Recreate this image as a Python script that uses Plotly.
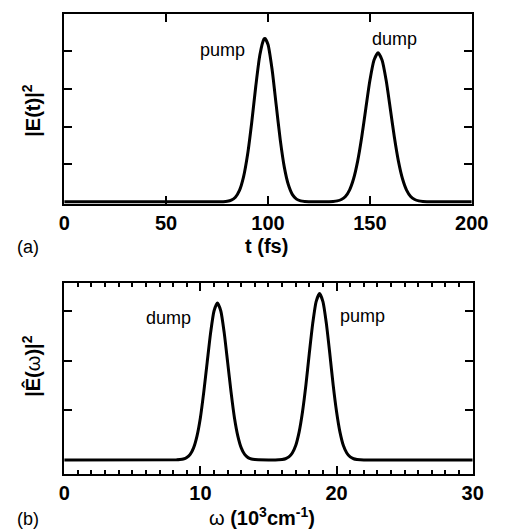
import plotly.graph_objects as go

# ---- panel (a): |E(t)|^2 versus t (fs) ----
t_fs = [0, 70, 76, 78, 80, 82, 84, 86, 88, 90, 92, 94, 96, 98, 98.5, 100, 102, 104,
        106, 108, 110, 112, 114, 116, 118, 120, 126,
        130, 132, 134, 136, 138, 140, 142, 144, 146, 148, 150, 152, 154, 156, 158,
        160, 162, 164, 166, 168, 170, 172, 174, 176, 178, 184, 200]
E_t = [0, 0, 0.001, 0.003, 0.012, 0.041, 0.118, 0.30, 0.66, 1.26, 2.10, 3.07, 3.90,
       4.32, 4.34, 4.18, 3.52, 2.58, 1.65, 0.92, 0.45, 0.19, 0.07, 0.023, 0.006,
       0.001, 0,
       0.002, 0.007, 0.022, 0.059, 0.14, 0.31, 0.61, 1.08, 1.72, 2.48, 3.22, 3.76,
       3.96, 3.76, 3.22, 2.48, 1.72, 1.08, 0.61, 0.31, 0.14, 0.059, 0.022, 0.007,
       0.002, 0, 0]
t_ticks = [0, 50, 100, 150, 200]

# ---- panel (b): |E(omega)|^2 versus omega (10^3 cm^-1) ----
w = [0, 8.25, 8.5, 8.75, 9.0, 9.25, 9.5, 9.75, 10.0, 10.25, 10.5, 10.75, 11.0, 11.25,
     11.5, 11.75, 12.0, 12.25, 12.5, 12.75, 13.0, 13.25, 13.5, 13.75, 14.0, 14.25,
     15.5, 15.75, 16.0, 16.25, 16.5, 16.75, 17.0, 17.25, 17.5, 17.75, 18.0, 18.25,
     18.5, 18.75, 19.0, 19.25, 19.5, 19.75, 20.0, 20.25, 20.5, 20.75, 21.0, 21.25,
     21.5, 21.75, 22.0, 30]
E_w = [0, 0.002, 0.006, 0.017, 0.046, 0.111, 0.243, 0.48, 0.85, 1.37, 1.97, 2.56,
       3.00, 3.16, 3.00, 2.56, 1.97, 1.37, 0.85, 0.48, 0.243, 0.111, 0.046, 0.017,
       0.006, 0.002,
       0, 0.003, 0.008, 0.023, 0.060, 0.14, 0.29, 0.56, 0.97, 1.51, 2.15, 2.75,
       3.19, 3.35, 3.19, 2.75, 2.15, 1.51, 0.97, 0.56, 0.29, 0.14, 0.060, 0.023,
       0.008, 0.003, 0, 0]
w_ticks = [0, 10, 20, 30]

W, H = 505, 531
def px(x):
    return x / W
def py(y):
    return 1 - y / H

fig = go.Figure()
fig.add_trace(go.Scatter(x=t_fs, y=E_t, mode="lines", xaxis="x", yaxis="y",
                         line=dict(color="black", width=3, shape="spline", smoothing=0.6),
                         showlegend=False, hoverinfo="skip"))
fig.add_trace(go.Scatter(x=w, y=E_w, mode="lines", xaxis="x2", yaxis="y2",
                         line=dict(color="black", width=3, shape="spline", smoothing=0.6),
                         showlegend=False, hoverinfo="skip"))

tickfont = dict(family="Liberation Sans", size=20, color="black", weight="bold")
common = dict(showline=True, linecolor="black", linewidth=2, mirror="ticks",
              ticks="inside", tickcolor="black", tickwidth=2, showgrid=False,
              zeroline=False, fixedrange=True)

fig.update_layout(
    width=W, height=H, margin=dict(l=0, r=0, t=0, b=0),
    paper_bgcolor="white", plot_bgcolor="white",
    xaxis=dict(domain=[px(61), px(488)], anchor="y", range=[0, 200],
               tickvals=t_ticks, ticklen=8, tickfont=tickfont, **common),
    yaxis=dict(domain=[py(204), py(14)], anchor="x", range=[-0.06, 4.99],
               tickvals=[1, 2, 3, 4], ticklen=8, showticklabels=False, **common),
    xaxis2=dict(domain=[px(61), px(489)], anchor="y2", range=[0, 30],
                tickvals=w_ticks, ticklen=8, tickfont=tickfont,
                minor=dict(dtick=1, ticklen=4, ticks="inside", tickcolor="black",
                           tickwidth=2, showgrid=False),
                **common),
    yaxis2=dict(domain=[py(474.3), py(282.7)], anchor="x2", range=[-0.29, 3.57],
                tickvals=[1, 2, 3], ticklen=8, showticklabels=False, **common),
)

ann_font = dict(family="Liberation Sans", size=18, color="black")
bold_font = dict(family="Liberation Sans", size=20, color="black")
annotations = [
    dict(text="pump", x=px(227), y=py(50), font=ann_font),
    dict(text="dump", x=px(407), y=py(39), font=ann_font),
    dict(text="dump", x=px(170), y=py(318), font=ann_font),
    dict(text="pump", x=px(373), y=py(316), font=ann_font),
    dict(text="(a)", x=px(23), y=py(247), font=ann_font),
    dict(text="(b)", x=px(23), y=py(519), font=ann_font),
    dict(text="<b>t (fs)</b>", x=px(273), y=py(246), font=bold_font),
    dict(text="ω <b>(10<sup>3</sup>cm<sup>-1</sup>)</b>", x=px(268), y=py(516), font=bold_font),
    dict(text="<b>|E(t)|<sup>2</sup></b>", x=px(27), y=py(110), font=bold_font, textangle=-90),
    dict(text="<b>|Ê(</b>ω<b>)|<sup>2</sup></b>", x=px(26), y=py(366), font=bold_font, textangle=-90),
]
for a in annotations:
    a.update(xref="paper", yref="paper", showarrow=False, xanchor="center", yanchor="middle")
fig.update_layout(annotations=annotations)

fig.write_html("out.html")
